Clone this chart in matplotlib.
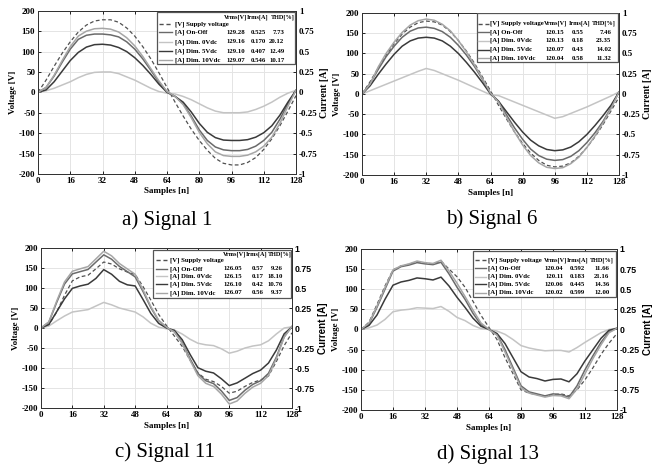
import numpy as np
import matplotlib.pyplot as plt
from matplotlib.patches import Rectangle
from matplotlib.lines import Line2D

plt.rcParams['axes.unicode_minus'] = False

samples = np.arange(0, 129, 4)

series_labels = ["[V] Supply voltage", "[A] On-Off", "[A] Dim. 0Vdc",
                 "[A] Dim. 5Vdc", "[A] Dim. 10Vdc"]

# ---- Signal 1 : voltage [V], currents [A] every 4 samples
sig1_volt = [0, 30, 64, 96, 124, 148, 165, 175, 178, 178, 172, 158, 138, 112, 82, 48, 12,
             -24, -58, -90, -118, -142, -162, -174, -178, -178, -172, -160, -140, -114, -82, -46, -8]
sig1_onoff = [0, .06, .20, .37, .53, .65, .70, .715, .715, .705, .68, .62, .53, .41, .27, .125, .01,
              -.05, -.14, -.29, -.46, -.59, -.67, -.705, -.715, -.715, -.70, -.66, -.59, -.49, -.33, -.14, .025]
sig1_dim0 = [0, .02, .05, .09, .13, .18, .22, .245, .25, .25, .23, .19, .15, .10, .05, .01, -.01,
             -.02, -.05, -.09, -.14, -.19, -.23, -.25, -.25, -.25, -.24, -.21, -.17, -.12, -.06, -.01, .025]
sig1_dim5 = [0, .03, .13, .26, .39, .49, .555, .585, .59, .58, .55, .50, .425, .33, .22, .10, 0,
             -.05, -.12, -.24, -.38, -.49, -.555, -.585, -.59, -.59, -.58, -.55, -.495, -.41, -.28, -.12, .025]
sig1_dim10 = [0, .06, .21, .39, .56, .69, .75, .78, .785, .775, .74, .67, .57, .44, .29, .14, .01,
              -.05, -.15, -.31, -.49, -.63, -.73, -.775, -.785, -.785, -.77, -.73, -.66, -.55, -.38, -.17, .025]
sig1_vrms = ["129.28", "129.16", "129.10", "129.07"]
sig1_irms = ["0.525", "0.170", "0.407", "0.546"]
sig1_thd = ["7.73", "20.12", "12.49", "10.17"]

# ---- Signal 6
sig6_volt = [0, 30, 64, 96, 124, 148, 165, 176, 180, 178, 170, 154, 132, 106, 76, 42, 8,
             -28, -62, -94, -122, -146, -164, -176, -180, -178, -170, -154, -132, -106, -76, -42, -8]
sig6_onoff = [0, .13, .30, .46, .59, .70, .775, .815, .825, .81, .77, .70, .60, .48, .34, .18, .01,
              -.09, -.26, -.42, -.56, -.68, -.76, -.805, -.82, -.81, -.77, -.70, -.60, -.48, -.34, -.17, .025]
sig6_dim0 = [0, .04, .08, .12, .16, .20, .24, .28, .315, .29, .25, .21, .17, .125, .08, .035, -.01,
             -.02, -.06, -.10, -.14, -.18, -.22, -.26, -.30, -.28, -.24, -.20, -.16, -.115, -.07, -.025, .025]
sig6_dim5 = [0, .10, .24, .37, .49, .59, .655, .69, .70, .69, .655, .59, .50, .39, .27, .14, 0,
             -.09, -.22, -.35, -.47, -.57, -.64, -.685, -.70, -.69, -.655, -.59, -.50, -.39, -.27, -.14, .025]
sig6_dim10 = [0, .12, .33, .50, .64, .76, .85, .905, .925, .91, .86, .78, .66, .52, .36, .19, .01,
              -.10, -.29, -.47, -.63, -.76, -.85, -.905, -.92, -.91, -.86, -.78, -.66, -.52, -.36, -.18, .025]
sig6_vrms = ["120.15", "120.13", "120.07", "120.04"]
sig6_irms = ["0.55", "0.18", "0.43", "0.58"]
sig6_thd = ["7.46", "23.35", "14.02", "11.32"]

# ---- Signal 11
sig11_volt = [0, 8, 40, 82, 118, 128, 132, 148, 165, 160, 148, 140, 134, 104, 70, 34, 6,
              -20, -46, -80, -112, -128, -134, -146, -163, -158, -146, -136, -130, -120, -84, -44, -12]
sig11_onoff = [0, .073, .32, .55, .677, .705, .732, .824, .915, .86, .77, .705, .64, .458, .256, .092, .01,
               -.046, -.183, -.384, -.567, -.659, -.695, -.787, -.905, -.87, -.778, -.705, -.659, -.567, -.366, -.11, .02]
sig11_dim0 = [0, .025, .09, .15, .20, .215, .23, .275, .32, .29, .25, .225, .20, .14, .06, .01, -.01,
              -.025, -.075, -.14, -.19, -.21, -.22, -.26, -.315, -.29, -.25, -.225, -.21, -.16, -.075, 0, .015]
sig11_dim5 = [0, .044, .204, .365, .496, .526, .548, .62, .73, .672, .584, .54, .526, .358, .183, .058, 0,
              -.029, -.146, -.329, -.496, -.54, -.562, -.635, -.72, -.686, -.628, -.569, -.526, -.438, -.277, -.073, .015]
sig11_dim10 = [0, .077, .336, .576, .71, .74, .768, .864, .96, .902, .806, .739, .672, .48, .269, .096, .01,
               -.048, -.192, -.403, -.595, -.691, -.73, -.826, -.95, -.912, -.816, -.739, -.691, -.595, -.384, -.115, .02]
sig11_vrms = ["126.05", "126.15", "126.10", "126.07"]
sig11_irms = ["0.57", "0.17", "0.42", "0.56"]
sig11_thd = ["9.26", "18.10", "10.76", "9.37"]

# ---- Signal 13
sig13_volt = [0, 18, 62, 108, 148, 158, 162, 168, 165, 163, 170, 150, 131, 105, 70, 35, 5,
              -25, -70, -110, -150, -158, -162, -165, -162, -160, -165, -150, -125, -95, -62, -34, -10]
sig13_onoff = [0, .07, .275, .50, .725, .78, .80, .83, .815, .805, .835, .69, .525, .375, .20, .06, 0,
               -.06, -.25, -.475, -.70, -.775, -.80, -.825, -.80, -.81, -.84, -.70, -.50, -.325, -.16, -.03, .015]
sig13_dim0 = [0, .02, .055, .125, .22, .24, .25, .27, .265, .26, .285, .225, .15, .11, .05, .01, 0,
              -.02, -.06, -.125, -.20, -.23, -.25, -.265, -.26, -.26, -.28, -.225, -.16, -.10, -.04, 0, .015]
sig13_dim5 = [0, .05, .18, .375, .55, .59, .61, .64, .63, .615, .65, .54, .40, .275, .14, .04, 0,
              -.05, -.175, -.35, -.525, -.59, -.61, -.64, -.62, -.615, -.65, -.55, -.39, -.25, -.11, -.01, .015]
sig13_dim10 = [0, .08, .29, .52, .74, .79, .815, .85, .83, .82, .86, .725, .575, .41, .24, .08, 0,
               -.07, -.28, -.50, -.725, -.79, -.815, -.84, -.82, -.825, -.86, -.74, -.55, -.36, -.19, -.04, .015]
sig13_vrms = ["120.04", "120.11", "120.06", "120.02"]
sig13_irms = ["0.592", "0.183", "0.445", "0.599"]
sig13_thd = ["11.66", "21.16", "14.36", "12.00"]

volt_ticks = np.arange(-200, 201, 50)
curr_ticks = [-1, -0.75, -0.5, -0.25, 0, 0.25, 0.5, 0.75, 1]
curr_ticklabels = ["-1", "-0.75", "-0.5", "-0.25", "0", "0.25", "0.5", "0.75", "1"]

volt_color = "#505050"
curr_colors = ["#6a6a6a", "#c4c4c4", "#3a3a3a", "#a6a6a6"]

SERIF = "Liberation Serif"
SANS = "Liberation Sans"

fig = plt.figure(figsize=(6.53, 4.70), dpi=100)


def px(x, y):
    return x / 653, 1 - y / 470


def draw_panel(rect, volt, currents, vrms, irms, thd, caption, cap_pos, lay, right_font):
    ax = fig.add_axes(rect)
    ax2 = ax.twinx()

    ax.plot(samples, volt, color=volt_color, lw=0.9, ls=(0, (3, 2)), zorder=2)
    for cur, col in zip(currents, curr_colors):
        ax2.plot(samples, cur, color=col, lw=1.1)

    ax.set_xlim(0, 128)
    ax.set_ylim(-200, 200)
    ax2.set_ylim(-1, 1)
    ax.set_xticks(np.arange(0, 129, 16))
    ax.set_yticks(volt_ticks)
    ax2.set_yticks(curr_ticks)
    ax2.set_yticklabels(curr_ticklabels)
    ax.grid(True, color="#e4e4e4", lw=0.7)
    ax.set_axisbelow(True)

    ax.tick_params(direction="in", length=2.5, width=0.6, top=True, pad=2)
    ax2.tick_params(direction="in", length=2.5, width=0.6, pad=2)
    for lab in ax.get_xticklabels() + ax.get_yticklabels():
        lab.set_fontfamily(SERIF)
        lab.set_fontweight("bold")
        lab.set_fontsize(6.5)
    rsize = 6.5 if right_font == SERIF else 6.3
    for lab in ax2.get_yticklabels():
        lab.set_fontfamily(right_font)
        lab.set_fontweight("bold")
        lab.set_fontsize(rsize)

    ax.set_xlabel("Samples [n]", fontfamily=SERIF, fontweight="bold", fontsize=6.5, labelpad=2)
    ax.set_ylabel("Voltage [V]", fontfamily=SERIF, fontweight="bold", fontsize=6.5, labelpad=1)
    ax2.set_ylabel("Current [A]", fontfamily=right_font, fontweight="bold", fontsize=7, labelpad=2)
    for a in (ax, ax2):
        for sp in a.spines.values():
            sp.set_color("#333333")
            sp.set_linewidth(0.7)

    # legend table
    x0, y0, x1, y1 = lay["box"]
    ax2.add_patch(Rectangle((x0, y0), x1 - x0, y1 - y0, transform=ax2.transAxes,
                            facecolor="white", edgecolor="#555555", lw=0.9, zorder=5))
    lx0, lx1, tx = lay["line_x"]
    cv, ci, ct = lay["cols"]
    hv, hi, ht = lay["head_x"]
    base = dict(transform=ax2.transAxes, fontfamily=SERIF, fontweight="bold",
                va="center", zorder=6)
    hy = lay["head_y"]
    for hx, htxt in zip((hv, hi, ht), ("Vrms[V]", "Irms[A]", "THD[%]")):
        ax2.text(hx, hy, htxt, ha="center", fontsize=4.5, **base)
    styles = [(volt_color, (0, (3, 2)))] + [(c, "-") for c in curr_colors]
    for i, (ry, label, (col, ls)) in enumerate(zip(lay["rows"], series_labels, styles)):
        ax2.add_line(Line2D([lx0, lx1], [ry, ry], transform=ax2.transAxes,
                            color=col, ls=ls, lw=1.0, zorder=6))
        ax2.text(tx, ry, label, ha="left", fontsize=4.9, **base)
        if i > 0:
            ax2.text(cv, ry, vrms[i - 1], ha="center", fontsize=4.9, **base)
            ax2.text(ci, ry, irms[i - 1], ha="center", fontsize=4.9, **base)
            ax2.text(ct, ry, thd[i - 1], ha="right", fontsize=4.9, **base)

    fig.text(*px(*cap_pos), caption, ha="center", va="center",
             fontfamily=SERIF, fontsize=15)


layouts = [
    dict(box=(0.46, 0.675, 0.998, 0.995), line_x=(0.47, 0.52, 0.53),
         head_x=(0.765, 0.85, 0.95), head_y=0.96, cols=(0.767, 0.853, 0.955),
         rows=[0.919, 0.868, 0.81, 0.753, 0.696]),
    dict(box=(0.447, 0.70, 0.998, 0.998), line_x=(0.45, 0.494, 0.50),
         head_x=(0.755, 0.845, 0.94), head_y=0.934, cols=(0.75, 0.84, 0.97),
         rows=[0.934, 0.882, 0.83, 0.773, 0.72]),
    dict(box=(0.446, 0.69, 0.998, 0.985), line_x=(0.46, 0.50, 0.514),
         head_x=(0.773, 0.86, 0.95), head_y=0.958, cols=(0.765, 0.865, 0.965),
         rows=[0.923, 0.87, 0.823, 0.775, 0.72]),
    dict(box=(0.437, 0.70, 0.998, 0.99), line_x=(0.445, 0.49, 0.497),
         head_x=(0.76, 0.845, 0.94), head_y=0.932, cols=(0.755, 0.845, 0.97),
         rows=[0.932, 0.88, 0.828, 0.78, 0.729]),
]

draw_panel([38 / 653, 0.630, 258 / 653, 0.347], sig1_volt,
           [sig1_onoff, sig1_dim0, sig1_dim5, sig1_dim10],
           sig1_vrms, sig1_irms, sig1_thd, "a) Signal 1", (167, 220), layouts[0], SERIF)
draw_panel([362 / 653, 0.6277, 257 / 653, 0.3447], sig6_volt,
           [sig6_onoff, sig6_dim0, sig6_dim5, sig6_dim10],
           sig6_vrms, sig6_irms, sig6_thd, "b) Signal 6", (492, 219), layouts[1], SERIF)
draw_panel([41 / 653, 0.1319, 251 / 653, 0.3404], sig11_volt,
           [sig11_onoff, sig11_dim0, sig11_dim5, sig11_dim10],
           sig11_vrms, sig11_irms, sig11_thd, "c) Signal 11", (165, 452), layouts[2], SANS)
draw_panel([361 / 653, 0.1277, 256 / 653, 0.3426], sig13_volt,
           [sig13_onoff, sig13_dim0, sig13_dim5, sig13_dim10],
           sig13_vrms, sig13_irms, sig13_thd, "d) Signal 13", (488, 454), layouts[3], SANS)

fig.savefig("out.png", dpi=100)
